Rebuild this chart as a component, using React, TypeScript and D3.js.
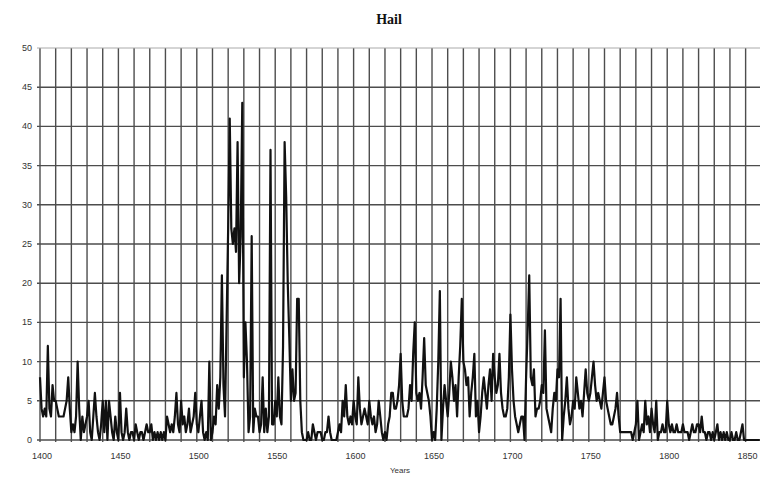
import { useEffect, useRef } from 'react';
import * as d3 from 'd3';

// yearly hail counts, starting 1400
const hail = [
  8, 4, 3, 4, 3, 12, 4, 3, 7, 5,
  5, 4, 3, 3, 3, 3, 4, 5, 8, 4,
  1, 2, 1, 3, 10, 4, 0, 3, 1, 2,
  3, 5, 1, 0, 3, 6, 3, 1, 0, 2,
  5, 1, 5, 0, 5, 3, 1, 0, 3, 1,
  0, 6, 1, 0, 1, 4, 1, 0, 1, 1,
  0, 2, 1, 0, 1, 1, 0, 1, 2, 1,
  1, 2, 0, 1, 0, 1, 0, 1, 0,
  1, 0, 3, 2, 1, 2, 1, 3, 6, 2,
  1, 5, 2, 3, 1, 2, 4, 1, 2, 3,
  6, 2, 1, 3, 5, 1, 0, 1, 0, 10,
  0, 1, 3, 2, 7, 4, 8, 21, 7, 3,
  15, 27, 41, 27, 25, 27, 24, 38, 20, 26,
  43, 8, 15, 10, 1, 3, 26, 1, 4, 3,
  3, 1, 2, 8, 1, 4, 1, 3, 37, 2,
  2, 5, 3, 8, 3, 2, 12, 38, 31, 20,
  13, 5, 9, 5, 6, 18, 18, 5, 1, 0,
  0, 0, 1, 0, 0, 2, 1, 0, 1,
  1, 1, 0, 0, 1, 1, 3, 1, 0, 0,
  0, 0, 1, 2, 1, 5, 3, 7, 3, 2,
  3, 2, 5, 3, 2, 8, 4, 2, 3, 4,
  3, 2, 5, 3, 2, 3, 1, 2, 5, 3,
  1, 0, 1, 0, 2, 3, 6, 6, 4, 4,
  5, 7, 11, 5, 3, 3, 3, 4, 7, 5,
  11, 15, 6, 5, 6, 4, 8, 13, 7, 6,
  5, 3, 0, 1, 0, 4, 10, 19, 0, 4,
  7, 5, 3, 6, 10, 8, 5, 7, 3, 8,
  12, 18, 10, 9, 7, 8, 3, 6, 8, 11,
  3, 5, 1, 3, 6, 8, 6, 4, 7,
  9, 5, 11, 8, 6, 7, 11, 6, 4, 3,
  3, 4, 8, 16, 9, 5, 3, 2, 1, 2,
  3, 3, 0, 8, 14, 21, 8, 7, 9, 3,
  4, 4, 5, 7, 6, 14, 4, 3, 2, 1,
  4, 6, 5, 9, 8, 18, 0, 3, 5, 8,
  4, 2, 3, 5, 4, 8, 6, 4, 5, 3,
  6, 9, 6, 5, 6, 8, 10, 7, 5, 6,
  5, 4, 6, 8, 5, 4, 3, 2, 2, 3,
  4, 6, 3, 1, 1, 1, 1, 1, 1,
  1, 1, 0, 1, 2, 5, 0, 1, 2, 1,
  5, 2, 3, 1, 4, 2, 1, 5, 0, 1,
  1, 2, 1, 1, 5, 2, 1, 2, 1, 1,
  2, 1, 1, 1, 2, 1, 1, 1, 0, 1,
  2, 1, 1, 2, 2, 1, 3, 1, 1, 0,
  1, 1, 0, 1, 0, 1, 2, 0, 1, 0,
  1, 0, 1, 0, 0, 1, 0, 0, 1, 0,
  0, 1, 2, 0, 0, 0, 0, 0, 0, 0,
  0, 0, 0, 0,
];
const years = hail.map((_, i) => 1400 + i);

const xTicks = [1400, 1450, 1500, 1550, 1600, 1650, 1700, 1750, 1800, 1850];
const yTicks = [0, 5, 10, 15, 20, 25, 30, 35, 40, 45, 50];
const xGrid = d3.range(1400, 1861, 10);

const HailChart = () => {
  const ref = useRef<SVGSVGElement>(null);

  useEffect(() => {
    const svg = d3.select(ref.current);
    svg.selectAll('*').remove();

    const x = d3.scaleLinear().domain([1400, 1860]).range([40, 761.3]);
    const y = d3.scaleLinear().domain([0, 50]).range([440, 48]);

    svg.append('rect').attr('width', 760).attr('height', 479).attr('fill', '#fff');

    // grid
    svg.append('g')
      .selectAll('line')
      .data(xGrid)
      .enter().append('line')
      .attr('x1', d => x(d)).attr('x2', d => x(d))
      .attr('y1', y(50)).attr('y2', y(0) + 2)
      .attr('stroke', '#4d4d4d')
      .attr('stroke-width', 1.4);

    svg.append('g')
      .selectAll('line')
      .data(yTicks)
      .enter().append('line')
      .attr('x1', x(1400) - 3).attr('x2', 760)
      .attr('y1', d => y(d)).attr('y2', d => y(d))
      .attr('stroke', d => d === 50 ? '#aaa' : '#4d4d4d')
      .attr('stroke-width', d => d === 50 ? 1 : 1.4);

    // series
    const line = d3.line<number>()
      .x((_, i) => x(years[i]))
      .y(d => y(d));

    svg.append('path')
      .datum(hail)
      .attr('d', line)
      .attr('fill', 'none')
      .attr('stroke', '#111')
      .attr('stroke-width', 2.2)
      .attr('stroke-linejoin', 'round');

    // labels
    svg.append('g')
      .selectAll('text')
      .data(yTicks)
      .enter().append('text')
      .attr('x', 32).attr('y', d => y(d) + 3)
      .attr('text-anchor', 'end')
      .attr('font-family', 'Arial, Liberation Sans, sans-serif')
      .attr('font-size', 9)
      .attr('fill', '#333')
      .text(d => d);

    svg.append('g')
      .selectAll('text')
      .data(xTicks)
      .enter().append('text')
      .attr('x', d => x(d) + 2).attr('y', 459)
      .attr('text-anchor', 'middle')
      .attr('font-family', 'Arial, Liberation Sans, sans-serif')
      .attr('font-size', 9)
      .attr('fill', '#333')
      .text(d => d);

    svg.append('text')
      .attr('x', 400).attr('y', 473)
      .attr('text-anchor', 'middle')
      .attr('font-family', 'Arial, Liberation Sans, sans-serif')
      .attr('font-size', 8)
      .attr('fill', '#333')
      .text('Years');

    svg.append('text')
      .attr('x', 389).attr('y', 24)
      .attr('text-anchor', 'middle')
      .attr('font-family', 'Liberation Serif, Times New Roman, serif')
      .attr('font-weight', 'bold')
      .attr('font-size', 14)
      .attr('fill', '#111')
      .text('Hail');
  }, []);

  return (
    <svg
      ref={ref}
      width={760}
      height={479}
      style={{ position: 'fixed', left: 0, top: 0 }}
    />
  );
};

export default function App() {
  return <HailChart />;
}
